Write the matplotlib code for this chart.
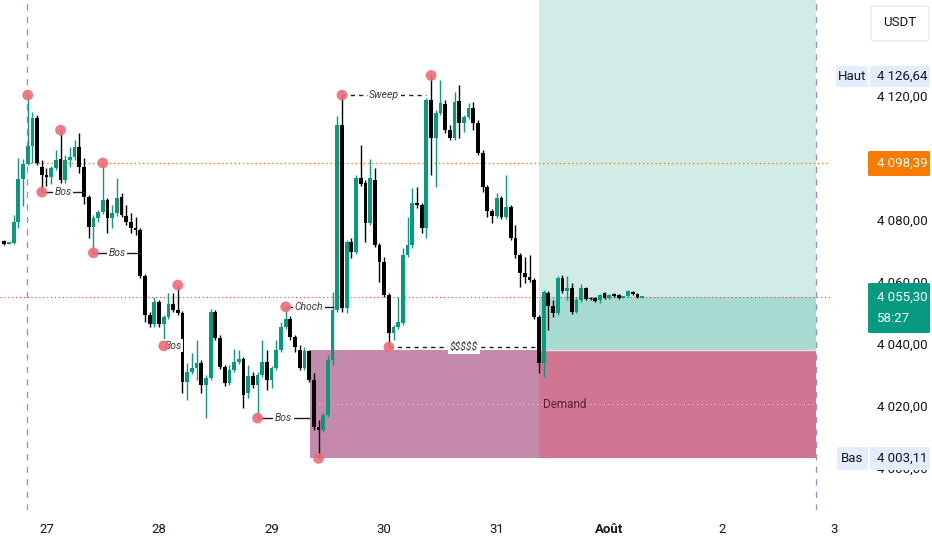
import matplotlib
matplotlib.use("Agg")
import matplotlib.pyplot as plt
import matplotlib.transforms as mtransforms
from matplotlib.patches import FancyBboxPatch, Rectangle

plt.rcParams['font.family'] = ['Roboto', 'DejaVu Sans']

# ---------------- data (1h candles, ETH/USDT style) ----------------
first_hour = -9          # first candle, hours relative to 27 Jul 00:00
opens = [
    4073.1, 4072.4, 4072.5, 4079.5, 4093.2, 4098.1, 4103.9, 4112.9, 4097.1, 4094.5,
    4093.9, 4096.8, 4099.7, 4092.9, 4099.4, 4100.3, 4103.6, 4097.1, 4087.4, 4077.7,
    4080.6, 4082.6, 4086.5, 4080.6, 4082.3, 4087.4, 4081.3, 4079.4, 4077.4, 4076.8,
    4061.9, 4049.4, 4046.4, 4053.6, 4046.4, 4048.7, 4052.9, 4051.0, 4050.0, 4027.7,
    4031.0, 4032.3, 4033.9, 4026.8, 4029.0, 4050.3, 4041.9, 4032.6, 4027.4, 4031.6,
    4034.2, 4035.2, 4024.2, 4029.7, 4026.8, 4030.0, 4034.2, 4028.4, 4032.3, 4038.1,
    4045.5, 4048.1, 4042.3, 4038.1, 4032.3, 4037.7, 4028.4, 4013.2, 4012.3, 4017.1,
    4034.8, 4051.0, 4110.6, 4051.6, 4072.9, 4069.7, 4093.5, 4091.9, 4079.0, 4092.9,
    4071.9, 4066.5, 4055.8, 4043.5, 4045.5, 4046.8, 4068.7, 4071.9, 4085.5, 4084.8,
    4077.4, 4118.7, 4106.5, 4114.5, 4117.4, 4109.0, 4106.5, 4118.4, 4111.3, 4113.2,
    4116.1, 4111.3, 4101.6, 4090.6, 4082.9, 4081.3, 4087.1, 4081.0, 4084.2, 4074.2,
    4068.7, 4062.9, 4061.6, 4060.6, 4048.7, 4033.9, 4056.5, 4052.3, 4050.0, 4061.3,
    4057.1, 4058.1, 4050.3, 4054.2, 4058.1, 4054.8, 4054.8, 4054.2, 4056.5, 4054.8,
    4056.1, 4055.8, 4055.0, 4055.5, 4056.8, 4056.1, 4055.0]
highs = [
    4073.5, 4072.9, 4081.6, 4100.0, 4099.7, 4120.3, 4114.8, 4113.9, 4099.4, 4096.8,
    4097.4, 4102.6, 4109.0, 4101.0, 4103.6, 4105.8, 4108.1, 4100.0, 4088.1, 4081.6,
    4083.2, 4098.39, 4087.1, 4084.8, 4093.5, 4088.7, 4084.8, 4082.3, 4081.0, 4077.4,
    4062.6, 4050.3, 4055.2, 4054.2, 4049.4, 4056.5, 4056.5, 4059.0, 4050.6, 4033.9,
    4037.1, 4041.3, 4034.8, 4030.0, 4051.3, 4051.0, 4042.9, 4033.2, 4033.2, 4038.4,
    4038.1, 4035.8, 4033.2, 4031.0, 4031.0, 4041.3, 4038.1, 4032.9, 4041.3, 4047.1,
    4052.0, 4049.0, 4042.9, 4039.7, 4039.0, 4038.1, 4030.6, 4015.5, 4017.7, 4036.5,
    4056.8, 4113.5, 4120.3, 4073.5, 4074.2, 4094.5, 4104.2, 4092.9, 4099.7, 4096.8,
    4072.6, 4068.1, 4056.5, 4046.1, 4055.2, 4071.0, 4081.0, 4090.3, 4090.6, 4085.5,
    4119.4, 4126.64, 4115.5, 4125.2, 4118.7, 4110.6, 4121.3, 4123.6, 4113.9, 4117.7,
    4118.1, 4112.3, 4102.6, 4091.3, 4083.5, 4088.7, 4087.7, 4094.5, 4084.8, 4078.4,
    4069.4, 4068.1, 4068.7, 4061.3, 4049.4, 4057.4, 4057.1, 4054.2, 4061.9, 4062.3,
    4061.9, 4059.7, 4054.8, 4059.4, 4058.4, 4055.2, 4055.2, 4056.1, 4056.8, 4056.1,
    4056.5, 4056.1, 4055.5, 4057.4, 4057.1, 4056.5, 4055.6]
lows = [
    4071.9, 4072.1, 4072.3, 4077.4, 4084.5, 4097.7, 4098.4, 4097.7, 4089.0, 4091.0,
    4091.6, 4096.1, 4091.9, 4091.9, 4097.1, 4099.4, 4095.2, 4085.2, 4074.2, 4069.4,
    4079.4, 4082.0, 4075.8, 4077.4, 4081.3, 4081.0, 4078.4, 4075.8, 4075.2, 4061.3,
    4047.1, 4045.5, 4045.5, 4045.5, 4039.4, 4048.1, 4050.3, 4049.4, 4024.2, 4021.9,
    4030.3, 4028.4, 4024.2, 4016.1, 4028.4, 4041.3, 4031.9, 4026.5, 4026.8, 4031.0,
    4033.6, 4019.4, 4022.6, 4025.8, 4016.1, 4029.4, 4025.2, 4025.8, 4031.6, 4037.4,
    4044.8, 4041.3, 4037.4, 4031.6, 4031.6, 4027.7, 4012.3, 4003.11, 4011.6, 4016.5,
    4033.2, 4050.3, 4050.3, 4050.0, 4067.8, 4069.0, 4091.0, 4072.9, 4078.4, 4071.3,
    4060.0, 4055.2, 4039.0, 4041.3, 4044.8, 4046.1, 4068.1, 4071.0, 4083.9, 4075.8,
    4074.2, 4094.5, 4090.6, 4113.9, 4108.1, 4105.8, 4105.8, 4106.5, 4108.4, 4112.6,
    4109.0, 4101.0, 4089.0, 4081.0, 4079.0, 4080.6, 4080.3, 4080.3, 4073.5, 4067.7,
    4058.4, 4059.7, 4060.0, 4048.1, 4030.6, 4029.4, 4044.5, 4048.7, 4049.4, 4056.5,
    4054.2, 4049.7, 4050.0, 4053.6, 4054.2, 4054.2, 4053.6, 4053.2, 4054.5, 4054.5,
    4055.2, 4054.5, 4054.8, 4055.2, 4055.8, 4054.8, 4054.8]
closes = [
    4072.4, 4072.6, 4079.5, 4093.2, 4098.1, 4103.9, 4112.9, 4098.4, 4094.5, 4093.9,
    4096.8, 4099.4, 4092.9, 4099.4, 4100.3, 4103.6, 4097.1, 4087.4, 4077.7, 4080.6,
    4082.6, 4086.5, 4080.6, 4082.3, 4087.1, 4081.6, 4079.4, 4077.4, 4076.8, 4061.9,
    4049.4, 4046.4, 4053.6, 4046.4, 4048.7, 4052.9, 4051.0, 4050.0, 4027.7, 4031.0,
    4032.3, 4033.9, 4026.8, 4029.0, 4050.3, 4041.9, 4032.6, 4027.4, 4031.6, 4034.2,
    4035.2, 4023.5, 4029.7, 4026.8, 4030.0, 4034.2, 4028.4, 4032.3, 4038.1, 4045.5,
    4048.1, 4042.3, 4039.0, 4032.3, 4037.7, 4028.4, 4013.2, 4012.3, 4017.1, 4034.8,
    4051.0, 4110.6, 4051.6, 4072.9, 4069.7, 4093.5, 4091.6, 4079.0, 4093.5, 4071.9,
    4066.5, 4055.8, 4043.5, 4045.5, 4047.1, 4068.7, 4071.9, 4085.5, 4084.8, 4077.4,
    4118.7, 4106.5, 4114.5, 4117.7, 4109.0, 4106.5, 4118.1, 4111.3, 4113.2, 4116.1,
    4111.3, 4101.6, 4090.6, 4082.9, 4081.3, 4087.1, 4081.0, 4084.2, 4074.2, 4068.7,
    4062.9, 4061.6, 4060.6, 4048.7, 4033.9, 4056.8, 4052.3, 4050.0, 4061.3, 4057.1,
    4058.1, 4050.3, 4054.2, 4058.1, 4054.5, 4054.5, 4053.9, 4055.8, 4054.8, 4055.8,
    4055.5, 4054.8, 4055.2, 4057.1, 4056.1, 4055.2, 4055.30]

day_ticks = [0, 24, 48, 72, 96, 120, 144, 168]
day_labels = ['27', '28', '29', '30', '31', 'Août', '2', '3']
price_ticks = [4000, 4020, 4040, 4060, 4080, 4120]

# swing pivots: (candle index, 'H' or 'L')
pivots = [(5, 'H'), (8, 'L'), (12, 'H'), (19, 'L'), (21, 'H'), (34, 'L'), (37, 'H'),
          (54, 'L'), (60, 'H'), (67, 'L'), (72, 'H'), (82, 'L'), (91, 'H')]
# structure labels: (text, start idx, end idx, pivot type, dashed)
structures = [("Bos", 8, 17, 'L', False), ("Bos", 19, 29, 'L', False),
              ("Bos", 34, 38, 'L', False), ("Bos", 54, 65, 'L', False),
              ("Choch", 60, 70, 'H', False), ("Sweep", 72, 90, 'H', True),
              ("$$$$$", 82, 114, 'L', True)]

level_orange = 4098.39
last_price = 4055.30
demand_top, demand_bottom = 4038.0, 4003.11
demand_start_hour = 56.2
zone_end_hour = 164.1
position_start_hour = 105.0
session_lines = [-4.2, 164.1]

# ---------------- figure ----------------
W, H = 932, 550
fig = plt.figure(figsize=(W / 100, H / 100), dpi=100)
fig.patch.set_facecolor('white')
ax = fig.add_axes([0, 40 / H, 830 / W, 510 / H])
ax.set_xlim(-9.91, 167.06)
ax.set_ylim(3986.45, 4150.97)
for s in ax.spines.values():
    s.set_visible(False)

hours = [first_hour + i for i in range(len(opens))]
GREEN = '#089981'
BLACK = '#000000'

# zones
ax.add_patch(Rectangle((demand_start_hour, demand_bottom), zone_end_hour - demand_start_hour,
                       demand_top - demand_bottom, facecolor='#c489ab', edgecolor='none', zorder=1))
ax.add_patch(Rectangle((position_start_hour, demand_bottom), zone_end_hour - position_start_hour,
                       demand_top - demand_bottom, facecolor='#d07692', edgecolor='none', zorder=1.1))
ax.add_patch(Rectangle((position_start_hour, demand_top), zone_end_hour - position_start_hour,
                       4200 - demand_top, facecolor='#d1ece6', edgecolor='none', zorder=1))
ax.add_patch(Rectangle((position_start_hour, demand_top), zone_end_hour - position_start_hour,
                       last_price - demand_top, facecolor='#a7dbd1', edgecolor='none', zorder=1.1))
ax.plot([position_start_hour, zone_end_hour], [demand_top, demand_top], color='#f3dbe2', lw=1.0, zorder=1.2)
mid = (demand_top + demand_bottom) / 2
ax.plot([demand_start_hour, zone_end_hour], [mid, mid], color='#e8c6d4', lw=0.8,
        linestyle=(0, (1, 3)), zorder=1.2)
ax.text(position_start_hour + 0.8, mid, "Demand", fontsize=8.5, color='#5a1f35',
        va='center', ha='left', zorder=1.3)

# session lines
for h in session_lines:
    ax.axvline(h, color='#8a8fe0', lw=0.9, linestyle=(0, (5, 5)), zorder=1.5)

# horizontal levels
ax.plot([-3.5, 167.06], [level_orange, level_orange], color='#f57c00', lw=1.0,
        linestyle=(0, (1, 2)), zorder=1.6)
ax.axhline(last_price, color='#f23645', lw=0.8, linestyle=(0, (1, 2.5)), zorder=1.6)

# candles
colors = [GREEN if c >= o else BLACK for o, c in zip(opens, closes)]
ax.vlines(hours, lows, highs, colors=colors, lw=1.0, zorder=3)
bottoms = [min(o, c) for o, c in zip(opens, closes)]
heights = [max(abs(c - o), 0.35) for o, c in zip(opens, closes)]
ax.bar(hours, heights, bottom=bottoms, width=0.8, color=colors, edgecolor='none', zorder=4)

# structure lines and labels
for text, a, b, kind, dashed in structures:
    p = lows[a] if kind == 'L' else highs[a]
    ls = (0, (3, 3)) if dashed else '-'
    ax.plot([hours[a], hours[b]], [p, p], color='#1e1e1e', lw=1.0, linestyle=ls, zorder=5)
    ax.text((hours[a] + hours[b]) / 2, p, text, fontsize=7.5, style='italic', color='#3a3a3a',
            ha='center', va='center', zorder=6,
            bbox=dict(boxstyle='square,pad=0.15', facecolor='white', edgecolor='none'))

# pivot dots
px = [hours[i] for i, k in pivots]
py = [lows[i] if k == 'L' else highs[i] for i, k in pivots]
ax.scatter(px, py, s=60, color='#ef6b78', alpha=0.9, edgecolors='none', zorder=7)

# price axis
ax.yaxis.tick_right()
ax.set_yticks(price_ticks)
ax.set_yticklabels([f"{int(v // 1000)} {int(v % 1000):03d},00" for v in price_ticks])
ax.tick_params(axis='y', length=0, pad=33.8, labelsize=9.5, labelcolor='#131722')
ax.set_xticks([])

# time axis labels
trans = mtransforms.blended_transform_factory(ax.transData, ax.transAxes)
for h, lab in zip(day_ticks, day_labels):
    ax.text(h, -0.039, lab, transform=trans, ha='center', va='center', fontsize=9.5,
            color='#131722', fontweight='bold' if lab == 'Août' else 'normal', clip_on=False)


def px_box(x0, y0, x1, y1, fc, ec='none', rad=2):
    fig.patches.append(FancyBboxPatch((x0 / W, 1 - y1 / H), (x1 - x0) / W, (y1 - y0) / H,
                                      boxstyle=f"round,pad=0,rounding_size={rad / W}",
                                      transform=fig.transFigure, facecolor=fc, edgecolor=ec,
                                      lw=0.8, zorder=5))


def px_text(x, y, s, color='#131722', ha='left', size=9.5):
    fig.text(x / W, 1 - y / H, s, color=color, ha=ha, va='center', fontsize=size, zorder=6)


px_box(871, 6, 929, 41, 'white', '#e0e3eb', rad=4)
px_text(900, 23, "USDT", ha='center')

px_box(836, 66, 868, 87, '#e3edfb')
px_box(870, 66, 930, 87, '#e3edfb')
px_text(852, 77, "Haut", ha='center')
px_text(877, 76, "4 126,64")

px_box(868, 151, 930, 176, '#f57c00')
px_text(877, 163, "4 098,39", color='white')

px_box(868, 283, 930, 333, GREEN)
px_text(877, 297, "4 055,30", color='white')
px_text(877, 318, "58:27", color='white')

px_box(837, 447, 868, 470, '#e3edfb')
px_box(870, 447, 930, 470, '#e3edfb')
px_text(852, 459, "Bas", ha='center')
px_text(877, 458, "4 003,11")

fig.savefig("out.png", dpi=100, facecolor='white')
